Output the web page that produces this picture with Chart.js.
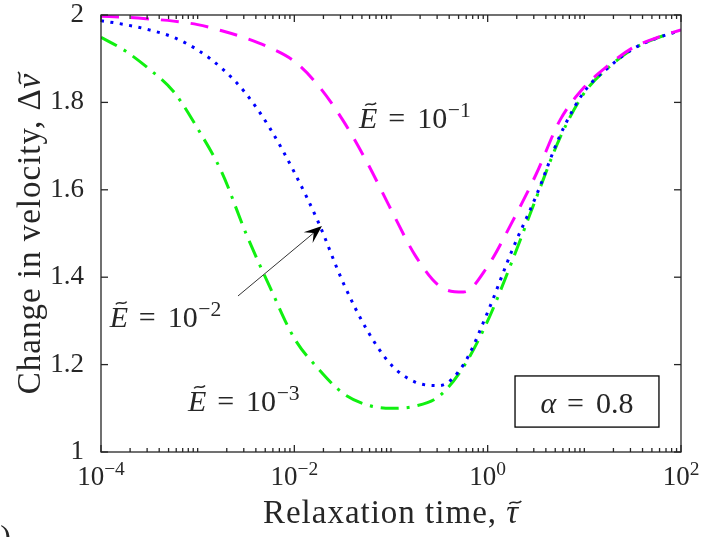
<!DOCTYPE html>
<html lang="en">
<head>
<meta charset="UTF-8">
<title>Change in velocity vs relaxation time</title>
<script src="https://cdn.jsdelivr.net/npm/chart.js"></script>
<style>
  html, body { margin: 0; padding: 0; background: #fff; }
</style>
</head>
<body>
<canvas id="chart" width="702" height="537"></canvas>
<script>
// log10 of the relaxation time, one sample every quarter decade
const logTau = [-4, -3.75, -3.5, -3.25, -3, -2.75, -2.5, -2.25, -2, -1.75, -1.5, -1.25,
                -1, -0.75, -0.5, -0.25, 0, 0.25, 0.5, 0.75, 1, 1.25, 1.5, 1.75, 2];

// change in velocity for each stiffness E
const dvE1 = [1.997, 1.995, 1.991, 1.986, 1.978, 1.964, 1.947, 1.925, 1.894, 1.838, 1.760, 1.664,
              1.555, 1.450, 1.380, 1.366, 1.425, 1.525, 1.635, 1.760, 1.835, 1.885, 1.925, 1.948, 1.966];
const dvE2 = [1.987, 1.978, 1.966, 1.949, 1.920, 1.878, 1.820, 1.740, 1.640, 1.525, 1.390, 1.280,
              1.200, 1.160, 1.152, 1.200, 1.320, 1.460, 1.585, 1.725, 1.825, 1.880, 1.922, 1.947, 1.965];
const dvE3 = [1.949, 1.918, 1.876, 1.825, 1.740, 1.640, 1.500, 1.376, 1.260, 1.190, 1.135, 1.108,
              1.100, 1.105, 1.128, 1.195, 1.300, 1.435, 1.580, 1.720, 1.822, 1.880, 1.922, 1.947, 1.965];

// axis ticks
const xLabelExps = [-4, -2, 0, 2];
const yTickVals = [1, 1.2, 1.4, 1.6, 1.8, 2];

const serif = "'Liberation Serif', 'Times New Roman', serif";
const ink = '#262626';

function toPoints(vals) {
    return vals.map((v, i) => ({ x: Math.pow(10, logTau[i]), y: v }));
}

// --- small rich-text helper: italic, superscript and tilde accents ---
function segFont(s, fs) {
    const size = s.sup ? fs * 0.72 : fs;
    return (s.it ? 'italic ' : '') + size + 'px ' + serif;
}
function richWidth(ctx, segs, fs) {
    let w = 0;
    segs.forEach(s => {
        ctx.font = segFont(s, fs);
        w += ctx.measureText(s.t).width + (s.gap || 0) * fs;
    });
    return w;
}
function drawTilde(ctx, cx, cy, w) {
    const a = w * 0.13;
    ctx.beginPath();
    ctx.moveTo(cx - w / 2, cy + a);
    ctx.bezierCurveTo(cx - w * 0.2, cy - a * 2.2, cx + w * 0.2, cy + a * 2.2, cx + w / 2, cy - a);
    ctx.stroke();
}
function drawRich(ctx, segs, x, y, fs, align) {
    let cx = x;
    if (align === 'center') cx -= richWidth(ctx, segs, fs) / 2;
    ctx.textBaseline = 'alphabetic';
    ctx.textAlign = 'left';
    segs.forEach(s => {
        ctx.font = segFont(s, fs);
        const w = ctx.measureText(s.t).width;
        const by = s.sup ? y - fs * 0.36 : y;
        ctx.fillText(s.t, cx, by);
        if (s.tilde) {
            ctx.lineWidth = fs * 0.05;
            drawTilde(ctx, cx + w / 2 + (s.it ? fs * 0.08 : 0), by - fs * s.tilde, fs * 0.36);
        }
        cx += w + (s.gap || 0) * fs;
    });
}

function eLabel(exp) {
    return [
        { t: 'E', it: true, tilde: 0.8, gap: 0.36 },
        { t: '=', gap: 0.4 },
        { t: '10', gap: 0.02 },
        { t: '\u2212' + exp, sup: true }
    ];
}

// axes frame, inward ticks, labels and annotations
const decorations = {
    id: 'decorations',
    afterDraw(chart) {
        const { ctx, chartArea: a, scales: { x, y } } = chart;
        ctx.save();
        ctx.strokeStyle = ink;
        ctx.fillStyle = ink;
        ctx.lineWidth = 1.3;

        const seg = (x0, y0, x1, y1) => {
            ctx.beginPath(); ctx.moveTo(x0, y0); ctx.lineTo(x1, y1); ctx.stroke();
        };

        // log x ticks, top and bottom
        for (let e = -4; e <= 2; e++) {
            for (let m = 1; m <= 9; m++) {
                if (e === 2 && m > 1) break;
                const px = x.getPixelForValue(m * Math.pow(10, e));
                const len = (m === 1 && xLabelExps.includes(e)) ? 7 : 4;
                seg(px, a.bottom, px, a.bottom - len);
                seg(px, a.top, px, a.top + len);
            }
        }
        // y ticks, left and right
        yTickVals.forEach(v => {
            const py = y.getPixelForValue(v);
            seg(a.left, py, a.left + 7, py);
            seg(a.right, py, a.right - 7, py);
        });
        ctx.strokeRect(a.left, a.top, a.width, a.height);

        // x tick labels 10^n
        xLabelExps.forEach(e => {
            const px = x.getPixelForValue(Math.pow(10, e));
            const exp = e < 0 ? '\u2212' + (-e) : String(e);
            drawRich(ctx, [{ t: '10' }, { t: exp, sup: true }], px, a.bottom + 33, 27, 'center');
        });

        // axis titles, slightly tracked out
        ctx.letterSpacing = '1px';
        drawRich(ctx, [
            { t: 'Relaxation time, ' },
            { t: '\u03c4', it: true, tilde: 0.62 }
        ], (a.left + a.right) / 2, 523, 33, 'center');

        ctx.save();
        ctx.translate(40, (a.top + a.bottom) / 2);
        ctx.rotate(-Math.PI / 2);
        drawRich(ctx, [
            { t: 'Change in velocity, \u0394' },
            { t: 'v', it: true, tilde: 0.62 }
        ], 0, 0, 33, 'center');
        ctx.restore();
        ctx.letterSpacing = '0px';

        // curve labels
        const lbl = (tau, v, exp) =>
            drawRich(ctx, eLabel(exp), x.getPixelForValue(tau), y.getPixelForValue(v), 30, 'left');
        lbl(Math.pow(10, -1.33), 1.741, 1);
        lbl(Math.pow(10, -3.91), 1.286, 2);
        lbl(Math.pow(10, -3.10), 1.094, 3);

        // arrow pointing at the E = 10^-2 curve
        const x0 = x.getPixelForValue(Math.pow(10, -2.583)), y0 = y.getPixelForValue(1.357);
        const x1 = x.getPixelForValue(Math.pow(10, -1.714)), y1 = y.getPixelForValue(1.517);
        const ang = Math.atan2(y1 - y0, x1 - x0);
        const hl = 18, hw = 7;
        ctx.lineWidth = 1;
        ctx.strokeStyle = '#333';
        seg(x0, y0, x1 - hl * 0.6 * Math.cos(ang), y1 - hl * 0.6 * Math.sin(ang));
        ctx.fillStyle = '#000';
        ctx.save();
        ctx.translate(x1, y1);
        ctx.rotate(ang);
        ctx.beginPath();
        ctx.moveTo(0, 0);
        ctx.lineTo(-hl, -hw);
        ctx.lineTo(-hl * 0.6, 0);
        ctx.lineTo(-hl, hw);
        ctx.closePath();
        ctx.fill();
        ctx.restore();

        // parameter box
        ctx.strokeStyle = '#000';
        ctx.lineWidth = 1.3;
        const bx0 = x.getPixelForValue(Math.pow(10, 0.283)), bx1 = x.getPixelForValue(Math.pow(10, 1.772));
        const by0 = y.getPixelForValue(1.174), by1 = y.getPixelForValue(1.057);
        ctx.fillStyle = '#fff';
        ctx.fillRect(bx0, by0, bx1 - bx0, by1 - by0);
        ctx.strokeRect(bx0, by0, bx1 - bx0, by1 - by0);
        ctx.fillStyle = ink;
        drawRich(ctx, [
            { t: '\u03b1', it: true, gap: 0.36 },
            { t: '=', gap: 0.4 },
            { t: '0.8' }
        ], (bx0 + bx1) / 2, by1 - 14, 30, 'center');

        // panel letter, cut by the lower left corner
        ctx.font = '32px ' + serif;
        ctx.textAlign = 'right';
        ctx.fillText('(b)', 11, 547);

        ctx.restore();
    }
};

new Chart(document.getElementById('chart'), {
    type: 'line',
    data: {
        datasets: [
            { data: toPoints(dvE1), borderColor: '#ff00ff', borderDash: [18, 12], borderWidth: 3 },
            { data: toPoints(dvE2), borderColor: '#0000ff', borderDash: [3, 6.5], borderWidth: 3 },
            { data: toPoints(dvE3), borderColor: '#10f010', borderDash: [18, 8, 3, 8], borderWidth: 3 }
        ]
    },
    options: {
        responsive: false,
        animation: false,
        layout: { padding: { left: 41, top: 15, right: 21, bottom: 0 } },
        plugins: { legend: { display: false }, tooltip: { enabled: false } },
        elements: {
            point: { radius: 0 },
            line: { cubicInterpolationMode: 'monotone', fill: false }
        },
        scales: {
            x: {
                type: 'logarithmic', min: 1e-4, max: 1e2,
                grid: { display: false }, border: { display: false },
                ticks: { display: false },
                afterFit(s) { s.height = 85; }
            },
            y: {
                min: 1, max: 2,
                grid: { display: false }, border: { display: false },
                afterBuildTicks(s) { s.ticks = yTickVals.map(v => ({ value: v })); },
                ticks: {
                    font: { family: serif, size: 27 }, color: ink, padding: 9,
                    callback: v => String(+v.toFixed(1))
                },
                afterFit(s) { s.width = 60; s.paddingTop = 0; s.paddingBottom = 0; }
            }
        }
    },
    plugins: [decorations]
});
</script>
</body>
</html>
